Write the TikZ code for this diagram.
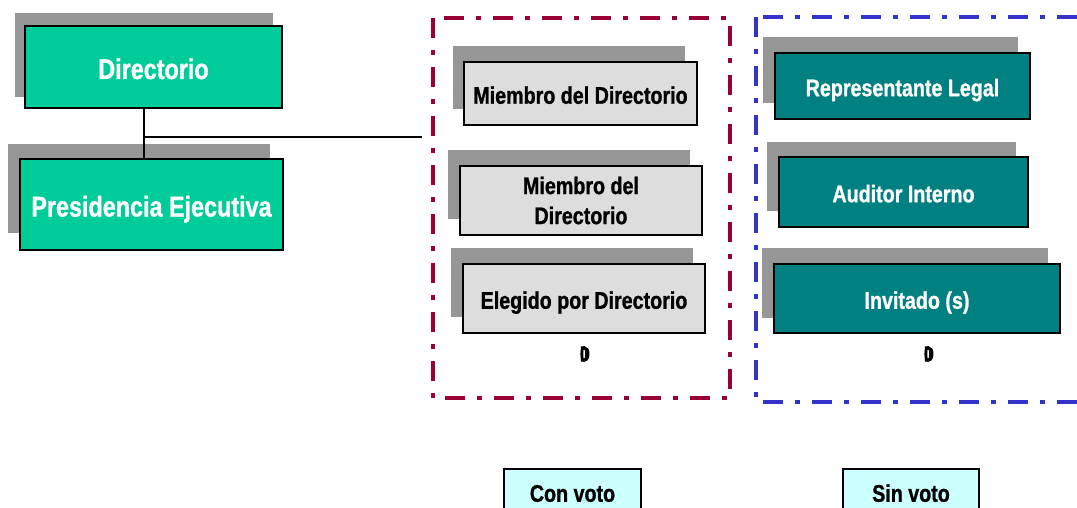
\documentclass[tikz,border=0pt]{standalone}
\usepackage{fontspec}
\setmainfont{Liberation Sans}[FakeStretch=0.82, BoldFeatures={FakeBold=1}]
\newfontfamily\blobfont{Liberation Sans}[FakeStretch=0.6, FakeBold=7]
\definecolor{mgreen}{RGB}{0,204,153}
\definecolor{mteal}{RGB}{0,128,128}
\definecolor{mshadow}{RGB}{150,150,150}
\definecolor{mgray}{RGB}{221,221,221}
\definecolor{mcyan}{RGB}{204,255,255}
\definecolor{mred}{RGB}{153,0,51}
\definecolor{mblue}{RGB}{51,51,204}
\tikzset{
  basebox/.style={draw=black, line width=1.5pt, inner sep=0pt, align=center, font=\bfseries\fontsize{24pt}{30pt}\selectfont},
  oneline/.style={text height=20.5pt, text depth=0pt},
  bigline/.style={text height=24pt, text depth=0pt},
  greenbox/.style={basebox, bigline, fill=mgreen, text=white, font=\bfseries\fontsize{28.5pt}{34pt}\selectfont},
  graybox/.style={basebox, fill=mgray, text=black},
  tealbox/.style={basebox, oneline, fill=mteal, text=white},
  legendbox/.style={basebox, fill=mcyan, text=black, anchor=north, minimum width=137pt, text height=18pt, text depth=20pt, inner ysep=15pt},
  shadowfill/.style={fill=mshadow},
  groupframe/.style={line width=3.5pt, dash pattern=on 20pt off 12pt on 5pt off 12pt},
  link/.style={draw=black, line width=1.3pt},
  blob/.style={font=\blobfont\fontsize{20pt}{20pt}\selectfont, inner sep=0pt}
}
\newcommand{\blobglyph}{\rlap{D}0}
\begin{document}
\begin{tikzpicture}[x=1pt, y=-1pt]
\useasboundingbox (0,0) rectangle (1077,508);
% group frames
\draw[groupframe, draw=mred] (433,18) rectangle (730,398);
\draw[groupframe, draw=mblue] (756,17) rectangle (1095,402);
% shadows
\fill[shadowfill] (15,13) rectangle (273,97);
\fill[shadowfill] (8,144) rectangle (270,233);
\fill[shadowfill] (453,46) rectangle (685,109);
\fill[shadowfill] (448,150) rectangle (690,219);
\fill[shadowfill] (451,248) rectangle (693,317);
\fill[shadowfill] (763,37) rectangle (1018,103);
\fill[shadowfill] (767,142) rectangle (1016,211);
\fill[shadowfill] (762,248) rectangle (1048,318);
% main boxes
\node[greenbox, minimum width=257pt, minimum height=82pt] (dir) at (153.5,67) {Directorio};
\node[greenbox, minimum width=263pt, minimum height=91pt] (pres) at (151.5,204.5) {Presidencia Ejecutiva};
\node[graybox, oneline, minimum width=233pt, minimum height=63pt] (m1) at (580.5,93.5) {Miembro del Directorio};
\node[graybox, minimum width=242pt, minimum height=69pt] (m2) at (581,200.5) {Miembro del\\Directorio};
\node[graybox, oneline, minimum width=242pt, minimum height=69pt] (eleg) at (584,298.5) {Elegido por Directorio};
\node[tealbox, minimum width=255pt, minimum height=66pt] (rep) at (902.5,86) {Representante Legal};
\node[tealbox, minimum width=249pt, minimum height=70pt] (aud) at (903.5,192) {Auditor Interno};
\node[tealbox, minimum width=286pt, minimum height=69pt] (inv) at (917,298.5) {Invitado (s)};
% blobs
\node[blob] (b1) at (584,354) {\blobglyph};
\node[blob] (b2) at (928,354) {\blobglyph};
% legend
\node[legendbox] (con) at (572.5,468) {Con voto};
\node[legendbox, minimum width=136pt] (sin) at (911,468) {Sin voto};
% connectors
\coordinate (j) at (144,137);
\coordinate (e) at (422,137);
\draw[link] (dir.south -| j) -- (pres.north -| j);
\draw[link] (j) -- (e);
\end{tikzpicture}
\end{document}
